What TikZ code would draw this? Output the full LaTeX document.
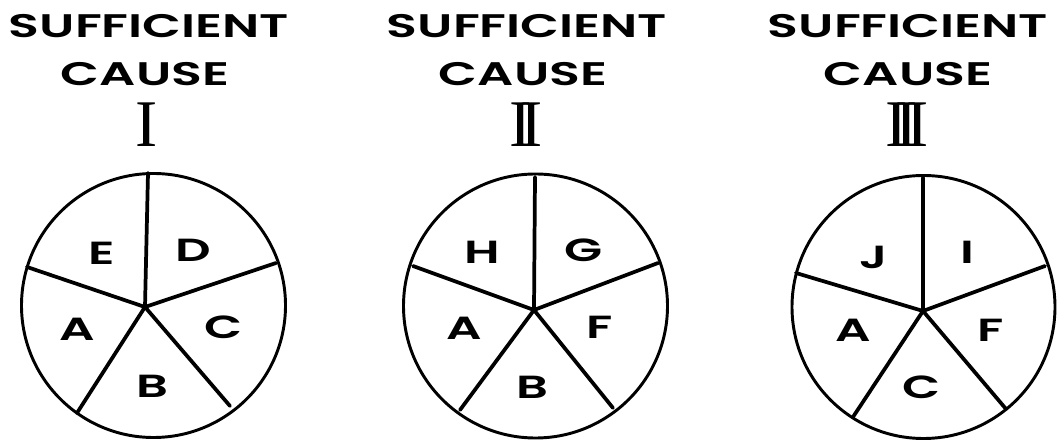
\documentclass[tikz,border=0pt]{standalone}
\usepackage{fontspec}
\newfontfamily\leroy{Poppins}[FakeStretch=1.55, UprightFont=* SemiBold]
\newfontfamily\numfont{Liberation Serif}
\newcommand{\romsep}{\kern-0.18em}

\begin{document}
\begin{tikzpicture}[x=0.75pt,y=0.75pt,yscale=-1,xscale=1,
  rim/.style={line width=2.2pt},
  spoke/.style={line width=2.8pt, line cap=round},
  heading/.style={inner sep=0pt, font=\leroy\fontsize{24.5}{25}\selectfont},
  numeral/.style={inner sep=0pt, font=\numfont\fontsize{50}{50}\selectfont},
  slicelabel/.style={inner sep=0pt, font=\leroy\fontsize{24}{24}\selectfont}]
\useasboundingbox (0,0) rectangle (1061,441);

%Shape: Circle [id:dp1]
\draw [rim] (153.5,305.5) circle (132) ;
%Straight Lines [id:da1]
\coordinate (hub1) at (145,307) ;
\draw [spoke] (hub1) -- (148,173) ;
\draw [spoke] (hub1) -- (276,263) ;
\draw [spoke] (hub1) -- (230,406) ;
\draw [spoke] (hub1) -- (77,413) ;
\draw [spoke] (hub1) -- (27,267) ;

%Shape: Circle [id:dp2]
\draw [rim] (535.5,306) circle (132) ;
%Straight Lines [id:da2]
\coordinate (hub2) at (534,310) ;
\draw [spoke] (hub2) -- (535,177) ;
\draw [spoke] (hub2) -- (658,263) ;
\draw [spoke] (hub2) -- (613,408) ;
\draw [spoke] (hub2) -- (460,410) ;
\draw [spoke] (hub2) -- (413,266) ;

%Shape: Circle [id:dp3]
\draw [rim] (923.5,307) circle (131.5) ;
%Straight Lines [id:da3]
\coordinate (hub3) at (923,311) ;
\draw [spoke] (hub3) -- (923,178) ;
\draw [spoke] (hub3) -- (1045,266) ;
\draw [spoke] (hub3) -- (1006,409) ;
\draw [spoke] (hub3) -- (853,417) ;
\draw [spoke] (hub3) -- (796,273) ;

% Text Node
\draw (149,26) node (suf1) [heading] {SUFFICIENT};
% Text Node
\draw (145,74) node (cau1) [heading] {CAUSE};
% Text Node
\draw (147,125) node (num1) [numeral] {I};
% Text Node
\draw (527,26) node (suf2) [heading] {SUFFICIENT};
% Text Node
\draw (523,74) node (cau2) [heading] {CAUSE};
% Text Node
\draw (526,125) node (num2) [numeral] {I\romsep I};
% Text Node
\draw (908,26) node (suf3) [heading] {SUFFICIENT};
% Text Node
\draw (908,74) node (cau3) [heading] {CAUSE};
% Text Node
\draw (907,125) node (num3) [numeral] {I\romsep I\romsep I};

% Text Node
\draw (102,253) node (e1) [slicelabel] {E};
% Text Node
\draw (193,250) node (d1) [slicelabel] {D};
% Text Node
\draw (77,329) node (a1) [slicelabel] {A};
% Text Node
\draw (224,327) node (c1) [slicelabel] {C};
% Text Node
\draw (152,386) node (b1) [slicelabel] {B};

% Text Node
\draw (482,252) node (h2) [slicelabel] {H};
% Text Node
\draw (584,250) node (g2) [slicelabel] {G};
% Text Node
\draw (464,328) node (a2) [slicelabel] {A};
% Text Node
\draw (600,327) node (f2) [slicelabel] {F};
% Text Node
\draw (532,387) node (b2) [slicelabel] {B};

% Text Node
\draw (874,257) node (j3) [slicelabel] {J};
% Text Node
\draw (967,252) node (i3) [slicelabel] {I};
% Text Node
\draw (853,330) node (a3) [slicelabel] {A};
% Text Node
\draw (991,330) node (f3) [slicelabel] {F};
% Text Node
\draw (922,387) node (c3) [slicelabel] {C};

\end{tikzpicture}
\end{document}
